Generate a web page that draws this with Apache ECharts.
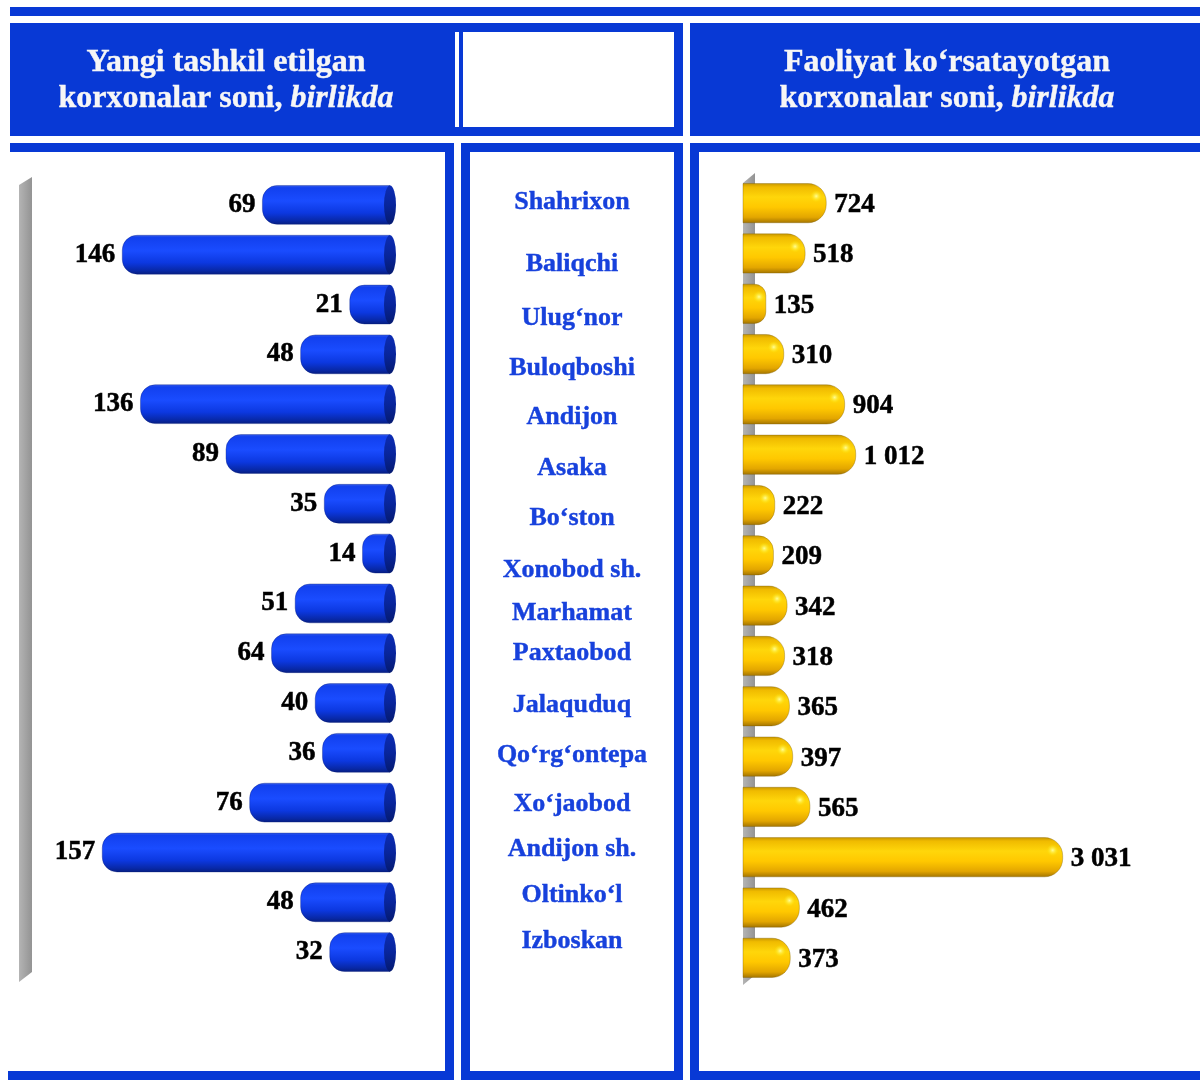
<!DOCTYPE html>
<html>
<head>
<meta charset="utf-8">
<title>Korxonalar soni</title>
<script src="https://cdn.jsdelivr.net/npm/echarts@6/dist/echarts.min.js"></script>
<style>
  html, body { margin: 0; padding: 0; background: #ffffff; }
  #chart { width: 1200px; height: 1085px; }
</style>
</head>
<body>
<div id="chart"></div>
<script>
// Districts (top to bottom) and their enterprise counts
const districts = ['Shahrixon', 'Baliqchi', 'Ulug‘nor', 'Buloqboshi', 'Andijon', 'Asaka', 'Bo‘ston',
  'Xonobod sh.', 'Marhamat', 'Paxtaobod', 'Jalaquduq', 'Qo‘rg‘ontepa', 'Xo‘jaobod', 'Andijon sh.',
  'Oltinko‘l', 'Izboskan'];
const newEnterprises = [69, 146, 21, 48, 136, 89, 35, 14, 51, 64, 40, 36, 76, 157, 48, 32];
const activeEnterprises = [724, 518, 135, 310, 904, 1012, 222, 209, 342, 318, 365, 397, 565, 3031, 462, 373];

const leftTitleLines = ['Yangi tashkil etilgan', 'korxonalar soni, ', 'birlikda'];
const rightTitleLines = ['Faoliyat ko‘rsatayotgan', 'korxonalar soni, ', 'birlikda'];

// small vertical nudges (px) for the district names in the middle column
const nameShift = [-17, -4, 2, 3, 3, 6, 7, 11, 5, -4, 0, 1, 1, -2, -5, -7];

const FRAME = '#0839d5';
const NAME_BLUE = '#1741dc';
const SERIF = '"Liberation Serif", "Times New Roman", serif';
const VALUE_FONT = 'bold 27px ' + SERIF;

function fmt(v) {
  return String(v).replace(/\B(?=(\d{3})+(?!\d))/g, ' ');
}

const blueBody = new echarts.graphic.LinearGradient(0, 0, 0, 1, [
  { offset: 0, color: '#3a60ea' },
  { offset: 0.07, color: '#1240ee' },
  { offset: 0.4, color: '#1a4cff' },
  { offset: 0.7, color: '#0c38e0' },
  { offset: 0.9, color: '#0828a6' },
  { offset: 1, color: '#061d7e' }
]);
const blueCap = new echarts.graphic.LinearGradient(0, 0, 0, 1, [
  { offset: 0, color: '#0c2cb4' },
  { offset: 0.5, color: '#08259c' },
  { offset: 1, color: '#051a70' }
]);
const goldBody = new echarts.graphic.LinearGradient(0, 0, 0, 1, [
  { offset: 0, color: '#c49400' },
  { offset: 0.1, color: '#f0bb00' },
  { offset: 0.35, color: '#ffd60a' },
  { offset: 0.6, color: '#ffc800' },
  { offset: 0.85, color: '#e3a600' },
  { offset: 1, color: '#a07200' }
]);
const goldGlow = new echarts.graphic.RadialGradient(0.5, 0.5, 0.5, [
  { offset: 0, color: 'rgba(255,255,160,0.95)' },
  { offset: 1, color: 'rgba(255,235,0,0)' }
]);
const wallFill = new echarts.graphic.LinearGradient(0, 0, 1, 0, [
  { offset: 0, color: '#b4b4b4' },
  { offset: 1, color: '#939393' }
]);

// left column: bars grow leftwards from the zero line, cylinder end on the right
function renderLeftBar(params, api) {
  const v = api.value(0);
  const idx = api.value(1);
  const zero = api.coord([0, idx]);
  const end = api.coord([v, idx]);
  const h = api.size([0, 1])[1] * 0.78;
  const cy = zero[1];
  const r = Math.min(h * 0.38, (zero[0] - end[0]) / 2);
  return {
    type: 'group',
    children: [
      {
        type: 'rect',
        shape: { x: end[0], y: cy - h / 2, width: zero[0] + 2 - end[0], height: h, r: [r, 0, 0, r] },
        style: { fill: blueBody, stroke: 'rgba(10,30,120,0.35)', lineWidth: 1 }
      },
      {
        type: 'circle',
        x: zero[0] + 2, y: cy, scaleX: 6 / (h / 2),
        shape: { cx: 0, cy: 0, r: h / 2 },
        style: { fill: blueCap }
      },
      {
        type: 'text',
        style: {
          text: fmt(v), x: end[0] - 7, y: cy,
          align: 'right', verticalAlign: 'middle', font: VALUE_FONT, fill: '#000',
          stroke: '#000', lineWidth: 0.5
        }
      }
    ]
  };
}

// right column: bars grow rightwards, rounded end at the value
function renderRightBar(params, api) {
  const v = api.value(0);
  const idx = api.value(1);
  const zero = api.coord([0, idx]);
  const end = api.coord([v, idx]);
  const h = api.size([0, 1])[1] * 0.78;
  const cy = zero[1];
  const start = zero[0] - 9;
  const w = end[0] - start;
  const r = Math.min(h * 0.46, w / 2);
  return {
    type: 'group',
    children: [
      {
        type: 'rect',
        shape: { x: start, y: cy - h / 2, width: w, height: h, r: [0, r, r, 0] },
        style: { fill: goldBody, stroke: 'rgba(120,90,0,0.35)', lineWidth: 1 }
      },
      {
        type: 'circle',
        shape: { cx: end[0] - Math.min(10, w * 0.3), cy: cy - 7, r: 6 },
        style: { fill: goldGlow }
      },
      {
        type: 'text',
        style: {
          text: fmt(v), x: end[0] + 8, y: cy + 2,
          align: 'left', verticalAlign: 'middle', font: VALUE_FONT, fill: '#000',
          stroke: '#000', lineWidth: 0.5
        }
      }
    ]
  };
}

// middle column: district names
function renderName(params, api) {
  const idx = api.value(1);
  const p = api.coord([0.5, idx]);
  return {
    type: 'text',
    style: {
      text: districts[idx], x: p[0], y: p[1] + nameShift[idx],
      align: 'center', verticalAlign: 'middle', font: 'bold 26px ' + SERIF, fill: NAME_BLUE,
      stroke: NAME_BLUE, lineWidth: 0.4
    }
  };
}

function rect(x, y, w, h, fill) {
  return { type: 'rect', silent: true, shape: { x: x, y: y, width: w, height: h }, style: { fill: fill } };
}

function titleBlock(cx, lines) {
  return [
    {
      type: 'text', silent: true,
      style: { text: lines[0], x: cx, y: 63, align: 'center', verticalAlign: 'middle',
        font: 'bold 32px ' + SERIF, fill: '#f6f6f6', stroke: '#f6f6f6', lineWidth: 0.4 }
    },
    {
      type: 'text', silent: true,
      style: {
        text: '{n|' + lines[1] + '}{i|' + lines[2] + '}', x: cx, y: 99,
        align: 'center', verticalAlign: 'middle',
        rich: {
          n: { font: 'bold 32px ' + SERIF, fill: '#f6f6f6', stroke: '#f6f6f6', lineWidth: 0.4 },
          i: { font: 'italic bold 32px ' + SERIF, fill: '#f6f6f6', stroke: '#f6f6f6', lineWidth: 0.4 }
        }
      }
    }
  ];
}

const frames = [
  // header band
  rect(10, 7, 1190, 9, FRAME),
  rect(10, 23, 673, 113, FRAME),
  rect(455, 32, 4, 95, '#ffffff'),
  rect(463, 32, 211, 95, '#ffffff'),
  rect(690, 23, 510, 113, FRAME),
  // left panel
  rect(10, 143, 444, 9, FRAME),
  rect(445, 143, 9, 937, FRAME),
  rect(8, 1071, 446, 9, FRAME),
  // middle panel
  rect(461, 143, 222, 9, FRAME),
  rect(461, 143, 9, 937, FRAME),
  rect(674, 143, 9, 937, FRAME),
  rect(461, 1071, 222, 9, FRAME),
  // right panel
  rect(690, 143, 510, 9, FRAME),
  rect(690, 143, 9, 937, FRAME),
  rect(690, 1071, 510, 9, FRAME),
  // chart walls
  { type: 'polygon', silent: true, z: -1, shape: { points: [[19, 185], [32, 177], [32, 972], [19, 982]] }, style: { fill: wallFill } },
  { type: 'polygon', silent: true, z: -1, shape: { points: [[743, 183], [755, 173], [755, 975], [743, 985]] }, style: { fill: wallFill } }
].concat(titleBlock(226, leftTitleLines), titleBlock(947, rightTitleLines));

const chart = echarts.init(document.getElementById('chart'), null, { renderer: 'canvas' });

chart.setOption({
  animation: false,
  backgroundColor: '#ffffff',
  grid: [
    { left: 24, top: 180, width: 364, height: 797, outerBoundsMode: 'none' },
    { left: 752, top: 178, width: 410, height: 805, outerBoundsMode: 'none' },
    { left: 470, top: 195, width: 204, height: 778, outerBoundsMode: 'none' }
  ],
  xAxis: [
    { type: 'value', gridIndex: 0, min: 0, max: 200, inverse: true, show: false },
    { type: 'value', gridIndex: 1, min: 0, max: 4000, show: false },
    { type: 'value', gridIndex: 2, min: 0, max: 1, show: false }
  ],
  yAxis: [
    { type: 'category', gridIndex: 0, data: districts, inverse: true, show: false },
    { type: 'category', gridIndex: 1, data: districts, inverse: true, show: false },
    { type: 'category', gridIndex: 2, data: districts, inverse: true, show: false }
  ],
  graphic: frames,
  series: [
    {
      type: 'custom', name: 'Yangi tashkil etilgan', xAxisIndex: 0, yAxisIndex: 0,
      renderItem: renderLeftBar, encode: { x: 0, y: 1 },
      data: newEnterprises.map((v, i) => [v, i])
    },
    {
      type: 'custom', name: 'Faoliyat ko‘rsatayotgan', xAxisIndex: 1, yAxisIndex: 1,
      renderItem: renderRightBar, encode: { x: 0, y: 1 },
      data: activeEnterprises.map((v, i) => [v, i])
    },
    {
      type: 'custom', name: 'Tumanlar', xAxisIndex: 2, yAxisIndex: 2,
      renderItem: renderName, encode: { x: 0, y: 1 },
      data: districts.map((d, i) => [0.5, i])
    }
  ]
});
</script>
</body>
</html>
